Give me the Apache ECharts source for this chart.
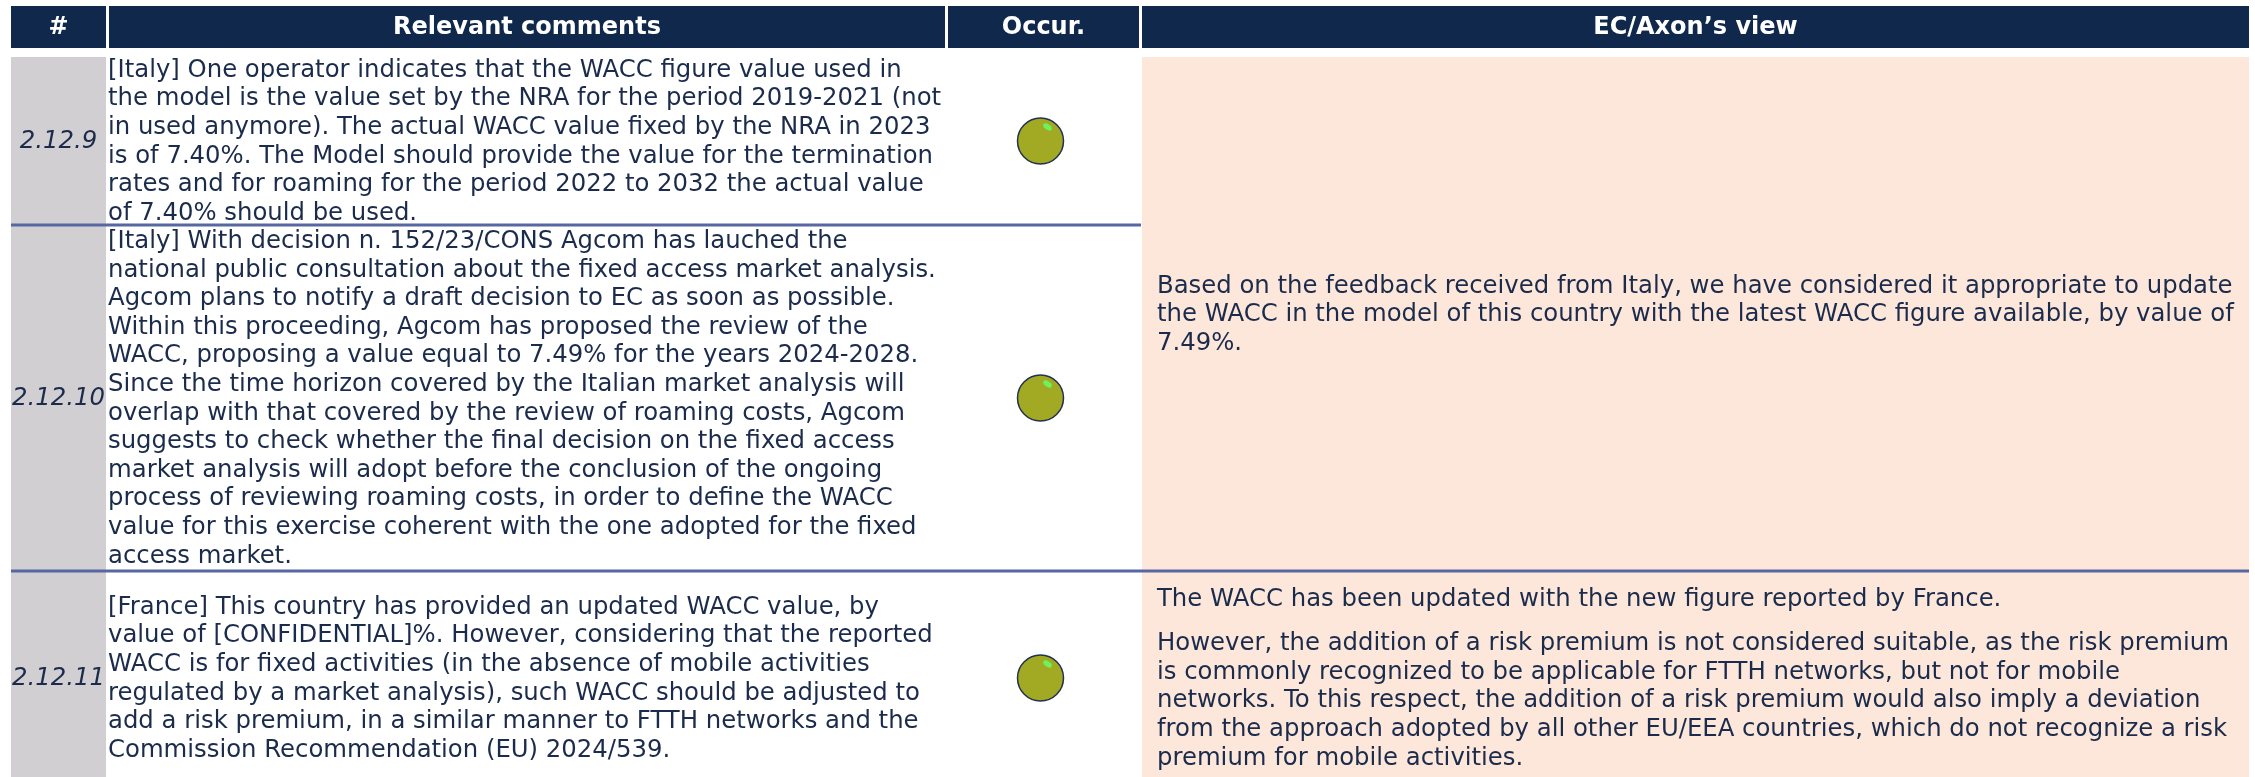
<!DOCTYPE html>
<html>
<head>
<meta charset="utf-8">
<script src="https://cdn.jsdelivr.net/npm/echarts@6/dist/echarts.min.js"></script>
<style>
html,body{margin:0;padding:0;background:#fff;}
#chart{width:2255px;height:777px;}
</style>
</head>
<body>
<div id="chart"></div>
<script>
// ---------- DATA ----------
const headers = ['#', 'Relevant comments', 'Occur.', 'EC/Axon\u2019s view'];
const ids = ['2.12.9', '2.12.10', '2.12.11'];
const comments = [
  '[Italy] One operator indicates that the WACC figure value used in\nthe model is the value set by the NRA for the period 2019-2021 (not\nin used anymore). The actual WACC value fixed by the NRA in 2023\nis of 7.40%. The Model should provide the value for the termination\nrates and for roaming for the period 2022 to 2032 the actual value\nof 7.40% should be used.',
  '[Italy] With decision n. 152/23/CONS Agcom has lauched the\nnational public consultation about the fixed access market analysis.\nAgcom plans to notify a draft decision to EC as soon as possible.\nWithin this proceeding, Agcom has proposed the review of the\nWACC, proposing a value equal to 7.49% for the years 2024-2028.\nSince the time horizon covered by the Italian market analysis will\noverlap with that covered by the review of roaming costs, Agcom\nsuggests to check whether the final decision on the fixed access\nmarket analysis will adopt before the conclusion of the ongoing\nprocess of reviewing roaming costs, in order to define the WACC\nvalue for this exercise coherent with the one adopted for the fixed\naccess market.',
  '[France] This country has provided an updated WACC value, by\nvalue of [CONFIDENTIAL]%. However, considering that the reported\nWACC is for fixed activities (in the absence of mobile activities\nregulated by a market analysis), such WACC should be adjusted to\nadd a risk premium, in a similar manner to FTTH networks and the\nCommission Recommendation (EU) 2024/539.'
];
const occurrences = ['medium', 'medium', 'medium'];
const views = [
  ['Based on the feedback received from Italy, we have considered it appropriate to update\nthe WACC in the model of this country with the latest WACC figure available, by value of\n7.49%.'],
  ['The WACC has been updated with the new figure reported by France.',
   'However, the addition of a risk premium is not considered suitable, as the risk premium\nis commonly recognized to be applicable for FTTH networks, but not for mobile\nnetworks. To this respect, the addition of a risk premium would also imply a deviation\nfrom the approach adopted by all other EU/EEA countries, which do not recognize a risk\npremium for mobile activities.']
];
const viewRowSpans = [[0, 1], [2, 2]];

// ---------- LAYOUT / STYLE ----------
const L = {
  cols: [[11, 106], [109, 945], [948, 1139], [1142, 2249]],
  header: [6, 48],
  rowEdges: [57, 225, 571, 785],
  lineH: 28.6,
  paraGap: 15.4,
  font: '"DejaVu Sans", Verdana, sans-serif',
  fs: 24.35,
  headFs: 24
};
const C = {
  headBg: '#0F284C', headText: '#ffffff', text: '#1B2B4B', idBg: '#D1CFD2',
  viewBg: '#FDE7DB', sep: '#5667A2', occ: { medium: '#A2AA24' }, occBorder: '#22324F', hi: '#6CF25A'
};
const colCenter = c => (L.cols[c][0] + L.cols[c][1]) / 2;
const rowTop = r => L.rowEdges[r];
const rowBot = r => L.rowEdges[r + 1];

function pt(api, x, y) { return api.coord([x, y]); }

const chart = echarts.init(document.getElementById('chart'), null, { renderer: 'canvas' });

const option = {
  animation: false,
  grid: { left: 0, right: 0, top: 0, bottom: 0 },
  xAxis: { type: 'value', min: 0, max: 2255, show: false },
  yAxis: { type: 'value', min: 0, max: 777, inverse: true, show: false },
  series: [
    // backgrounds: id column and view column
    {
      type: 'custom', coordinateSystem: 'cartesian2d', silent: true, z: 1,
      data: [[0]],
      renderItem: function (params, api) {
        const a = pt(api, L.cols[0][0], rowTop(0)), b = pt(api, L.cols[0][1], 800);
        const c = pt(api, L.cols[3][0], rowTop(0)), d = pt(api, L.cols[3][1], 800);
        return { type: 'group', children: [
          { type: 'rect', shape: { x: a[0], y: a[1], width: b[0] - a[0], height: b[1] - a[1] }, style: { fill: C.idBg } },
          { type: 'rect', shape: { x: c[0], y: c[1], width: d[0] - c[0], height: d[1] - c[1] }, style: { fill: C.viewBg } }
        ] };
      }
    },
    // header
    {
      type: 'custom', coordinateSystem: 'cartesian2d', silent: true, z: 2,
      data: headers.map((h, i) => [i]),
      renderItem: function (params, api) {
        const i = params.dataIndex;
        const a = pt(api, L.cols[i][0], L.header[0]), b = pt(api, L.cols[i][1], L.header[1]);
        return { type: 'group', children: [
          { type: 'rect', shape: { x: a[0], y: a[1], width: b[0] - a[0], height: b[1] - a[1] }, style: { fill: C.headBg } },
          { type: 'text', style: { text: headers[i], x: (a[0] + b[0]) / 2, y: (a[1] + b[1]) / 2 + 1,
            align: 'center', verticalAlign: 'middle', fill: C.headText, fontFamily: L.font, fontWeight: 'bold', fontSize: L.headFs } }
        ] };
      }
    },
    // ids + comments
    {
      type: 'custom', coordinateSystem: 'cartesian2d', silent: true, z: 3,
      data: ids.map((d, i) => [i]),
      renderItem: function (params, api) {
        const i = params.dataIndex;
        const cy = (rowTop(i) + rowBot(i)) / 2;
        const idp = pt(api, colCenter(0), cy + 1);
        const cp = pt(api, L.cols[1][0] - 1, cy + 1);
        return { type: 'group', children: [
          { type: 'text', style: { text: ids[i], x: idp[0], y: idp[1], align: 'center', verticalAlign: 'middle',
            fill: C.text, fontFamily: L.font, fontStyle: 'italic', fontSize: L.fs } },
          { type: 'text', style: { text: comments[i], x: cp[0], y: cp[1], align: 'left', verticalAlign: 'middle',
            fill: C.text, fontFamily: L.font, fontSize: L.fs, lineHeight: L.lineH } }
        ] };
      }
    },
    // occurrence markers
    {
      type: 'custom', coordinateSystem: 'cartesian2d', silent: true, z: 4,
      data: occurrences.map((o, i) => [i]),
      renderItem: function (params, api) {
        const i = params.dataIndex;
        const cy = (rowTop(i) + rowBot(i)) / 2;
        const p = pt(api, colCenter(2) - 3, cy);
        return { type: 'group', children: [
          { type: 'circle', shape: { cx: p[0], cy: p[1], r: 23 }, style: { fill: C.occ[occurrences[i]], stroke: C.occBorder, lineWidth: 1.5 } },
          { type: 'circle', x: p[0] + 7, y: p[1] - 14, rotation: -0.6, scaleX: 1.5, scaleY: 0.85,
            shape: { cx: 0, cy: 0, r: 3.2 }, style: { fill: C.hi } }
        ] };
      }
    },
    // views (merged rows)
    {
      type: 'custom', coordinateSystem: 'cartesian2d', silent: true, z: 3,
      data: views.map((v, i) => [i]),
      renderItem: function (params, api) {
        const i = params.dataIndex;
        const span = viewRowSpans[i];
        const top = rowTop(span[0]), bot = rowBot(span[1]);
        const paras = views[i];
        const heights = paras.map(p => p.split('\n').length * L.lineH);
        const total = heights.reduce((s, h) => s + h, 0) + (paras.length - 1) * L.paraGap;
        let y = (top + bot) / 2 - total / 2 + 1;
        const children = [];
        paras.forEach((p, k) => {
          const q = pt(api, L.cols[3][0] + 15, y);
          children.push({ type: 'text', style: { text: p, x: q[0], y: q[1], align: 'left', verticalAlign: 'top',
            fill: C.text, fontFamily: L.font, fontSize: L.fs, lineHeight: L.lineH } });
          y += heights[k] + L.paraGap;
        });
        return { type: 'group', children: children };
      }
    },
    // row separators
    {
      type: 'custom', coordinateSystem: 'cartesian2d', silent: true, z: 5,
      data: L.rowEdges.slice(1, -1).map((e, i) => [i]),
      renderItem: function (params, api) {
        const i = params.dataIndex;
        const y = L.rowEdges[i + 1];
        // separator spans the columns unless the view cell is merged across it
        const merged = viewRowSpans.some(s => s[0] <= i && s[1] >= i + 1);
        const x1 = merged ? L.cols[2][1] + 2 : L.cols[3][1];
        const a = pt(api, L.cols[0][0], y), b = pt(api, x1, y);
        return { type: 'line', shape: { x1: a[0], y1: a[1], x2: b[0], y2: b[1] }, style: { stroke: C.sep, lineWidth: 3 } };
      }
    }
  ]
};
chart.setOption(option);
</script>
</body>
</html>
